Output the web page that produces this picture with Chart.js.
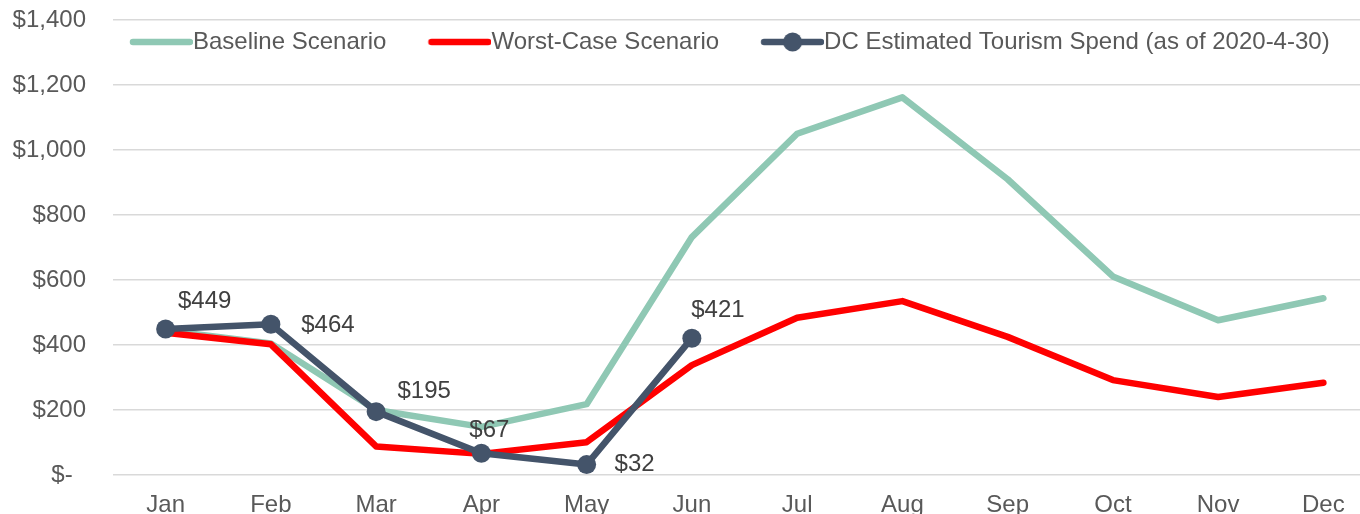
<!DOCTYPE html>
<html><head><meta charset="utf-8">
<script src="https://cdn.jsdelivr.net/npm/chart.js@4.4.1/dist/chart.umd.min.js"></script>
<style>
html,body{margin:0;padding:0;overflow:hidden;background:#fff;width:1360px;height:514px}
#wrap{position:absolute;left:0;top:0;width:1376px;height:522px}
</style>
</head><body>
<div id="wrap"><canvas id="c" width="1376" height="522"></canvas></div>
<script>
// ---- data ----
const months = ['Jan','Feb','Mar','Apr','May','Jun','Jul','Aug','Sep','Oct','Nov','Dec'];
const baseline = [445, 405, 200, 148, 218, 732, 1050, 1162, 910, 611, 476, 544];
const worstCase = [438, 402, 88, 65, 101, 338, 484, 535, 425, 292, 240, 284];
const dcSpend = [449, 464, 195, 67, 32, 421, null, null, null, null, null, null];
const yTicks = [0, 200, 400, 600, 800, 1000, 1200, 1400];
const seriesNames = ['Baseline Scenario', 'Worst-Case Scenario', 'DC Estimated Tourism Spend (as of 2020-4-30)'];

// ---- styles ----
const colors = ['#8FC8B4', '#FF0000', '#44546A'];
const FONT = '"Liberation Sans", Arial, sans-serif';
const labelOffsets = [[39,-28],[57,1],[48,-20],[8,-23],[48,0],[26,-28]];
Chart.defaults.font.family = FONT;
Chart.defaults.font.size = 24;
Chart.defaults.color = '#595959';

const BOXW = 83;
function legendIcon(color, marker) {
  const c = document.createElement('canvas');
  c.width = BOXW + 24; c.height = 22;
  const g = c.getContext('2d');
  g.strokeStyle = color; g.lineWidth = 6.5; g.lineCap = 'round';
  g.beginPath(); g.moveTo(BOXW - 36, 11); g.lineTo(BOXW + 21, 11); g.stroke();
  if (marker) {
    g.fillStyle = color; g.beginPath();
    g.arc((BOXW - 36 + BOXW + 21) / 2, 11, 9.5, 0, Math.PI * 2); g.fill();
  }
  return c;
}
const icons = [legendIcon(colors[0], false), legendIcon(colors[1], false), legendIcon(colors[2], true)];

const dataLabels = {
  id: 'dataLabels',
  afterDatasetsDraw(chart) {
    const ctx = chart.ctx;
    const meta = chart.getDatasetMeta(2);
    ctx.save();
    ctx.font = '24px ' + FONT;
    ctx.fillStyle = '#404040';
    ctx.textAlign = 'center';
    ctx.textBaseline = 'middle';
    meta.data.forEach((pt, i) => {
      const v = dcSpend[i];
      if (v == null) return;
      const o = labelOffsets[i];
      ctx.fillText('$' + v, pt.x + o[0], pt.y + o[1]);
    });
    ctx.restore();
  }
};
// legend floats inside the plot: takes no layout space, placed after layout
const legendFloat = {
  id: 'legendFloat',
  beforeLayout(chart) {
    const lg = chart.legend;
    if (lg && !lg._floatPatched) {
      const orig = lg.fit;
      lg.fit = function () { orig.call(this); this._realH = this.height; this.height = 0; };
      lg._floatPatched = true;
    }
  },
  afterLayout(chart) {
    const lg = chart.legend;
    if (!lg) return;
    lg.left = 88; lg.right = 1376;
    lg.top = 20; lg.height = lg._realH || 44; lg.bottom = lg.top + lg.height;
  }
};

new Chart(document.getElementById('c'), {
  type: 'line',
  data: {
    labels: months,
    datasets: [
      { label: seriesNames[0], data: baseline, borderColor: colors[0], backgroundColor: colors[0],
        borderWidth: 6.5, pointRadius: 0, tension: 0, order: 3, borderCapStyle: 'round', borderJoinStyle: 'round' },
      { label: seriesNames[1], data: worstCase, borderColor: colors[1], backgroundColor: colors[1],
        borderWidth: 6.5, pointRadius: 0, tension: 0, order: 2, borderCapStyle: 'round', borderJoinStyle: 'round' },
      { label: seriesNames[2], data: dcSpend, borderColor: colors[2], backgroundColor: colors[2],
        borderWidth: 6.5, pointRadius: 9.5, pointBorderWidth: 0, pointBackgroundColor: colors[2],
        tension: 0, order: 1, borderCapStyle: 'round', borderJoinStyle: 'round', spanGaps: false }
    ]
  },
  options: {
    responsive: false,
    animation: false,
    events: [],
    layout: { autoPadding: false, padding: { top: 20, left: 0, right: 0, bottom: 0 } },
    plugins: {
      tooltip: { enabled: false },
      legend: {
        position: 'top',
        align: 'start',
        labels: {
          usePointStyle: true,
          pointStyleWidth: BOXW,
          padding: 10,
          font: { size: 24, family: FONT },
          color: '#595959',
          generateLabels: (chart) => chart.data.datasets.map((ds, i) => ({
            text: ds.label, pointStyle: icons[i], fillStyle: 'rgba(0,0,0,0)',
            strokeStyle: 'rgba(0,0,0,0)', lineWidth: 0, hidden: false,
            datasetIndex: i, fontColor: '#595959'
          }))
        }
      }
    },
    scales: {
      x: {
        offset: true,
        grid: { display: false, drawTicks: false },
        border: { display: false },
        ticks: { padding: 16, color: '#595959', font: { size: 24 } },
        afterFit: (axis) => { axis.height = 47; axis.paddingLeft = 0; axis.paddingRight = 0; }
      },
      y: {
        min: 0, max: 1400,
        afterBuildTicks: (axis) => { axis.ticks = yTicks.map(v => ({ value: v })); },
        grid: { color: '#D9D9D9', lineWidth: 1.5, drawTicks: false },
        border: { display: false },
        ticks: {
          padding: 27, color: '#595959', font: { size: 24 },
          callback: (v) => v === 0 ? '$-  ' : '$' + Number(v).toLocaleString('en-US')
        },
        afterFit: (axis) => { axis.width = 113; axis.paddingTop = 0; axis.paddingBottom = 0; }
      }
    }
  },
  plugins: [dataLabels, legendFloat]
});
</script>
</body></html>
